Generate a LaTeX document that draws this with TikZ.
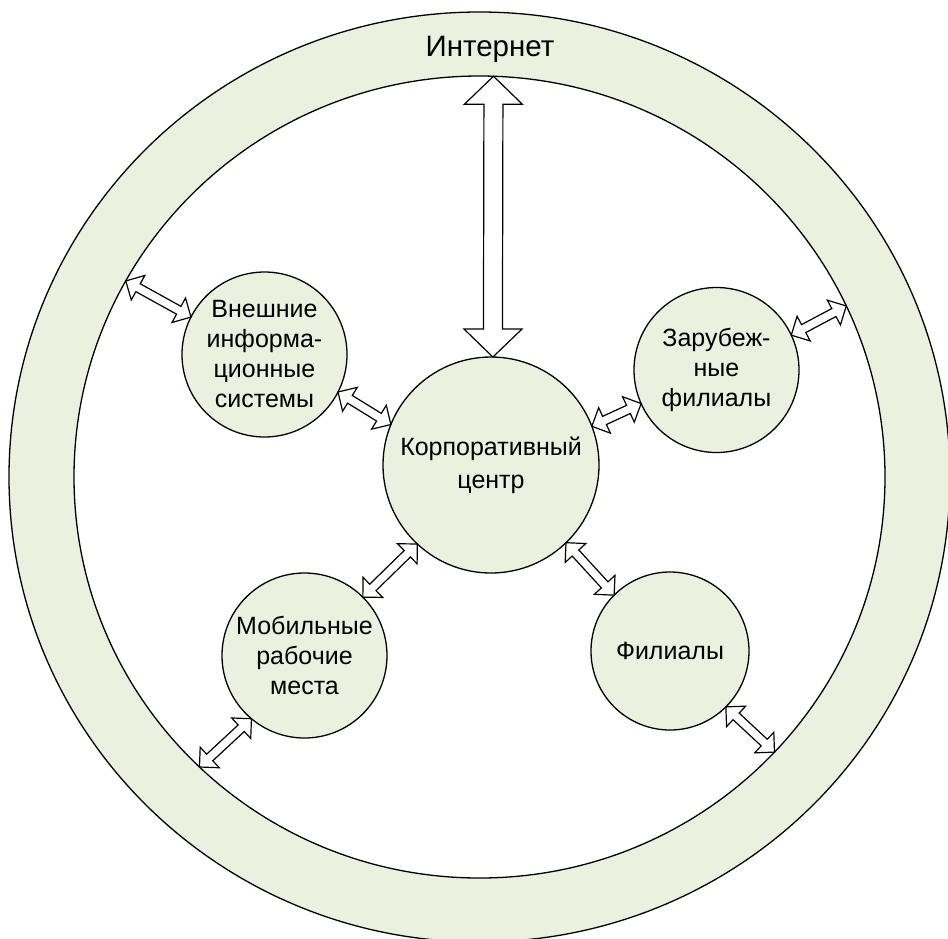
\documentclass[tikz,border=0pt]{standalone}
\usepackage{fontspec}
\setmainfont{Liberation Sans}
\usetikzlibrary{calc,shapes.geometric}
\definecolor{olivefill}{HTML}{EBF1DE}
\tikzset{
  bubble/.style={circle, draw=black, line width=1.3pt, fill=olivefill, inner sep=0pt, outer sep=0pt,
    align=center, font=\fontsize{25}{30}\selectfont},
  ringedge/.style={ellipse, draw=black, line width=1.3pt, inner sep=0pt, outer sep=0pt},
  blockarrow/.style={draw=black, fill=white, line width=1.2pt, line join=miter},
}
% #1 start, #2 end, #3 shaft half width, #4 head half width, #5 head length
\newcommand\dblarrow[5]{%
  \draw[blockarrow] (#1)
   -- ($(#1)!#5!(#2)!#4!90:(#2)$)
   -- ($(#1)!#5!(#2)!#3!90:(#2)$)
   -- ($(#2)!#5!(#1)!#3!-90:(#1)$)
   -- ($(#2)!#5!(#1)!#4!-90:(#1)$)
   -- (#2)
   -- ($(#2)!#5!(#1)!#4!90:(#1)$)
   -- ($(#2)!#5!(#1)!#3!90:(#1)$)
   -- ($(#1)!#5!(#2)!#3!-90:(#2)$)
   -- ($(#1)!#5!(#2)!#4!-90:(#2)$)
   -- cycle;}
\begin{document}
\begin{tikzpicture}[x=1pt,y=-1pt]
  \useasboundingbox (0,0) rectangle (948,938);
  \clip (0,0) rectangle (948,938);
  % ring
  \node[ringedge, fill=olivefill, minimum width=941pt, minimum height=930pt] (outer) at (479.5,477) {};
  \node[ringedge, fill=white, minimum width=811pt, minimum height=802pt] (inner) at (479.5,477) {};
  \node[font=\fontsize{29.5}{35}\selectfont, anchor=base] (net) at (490,56) {Интернет};
  % nodes
  \node[bubble, minimum size=216pt, font=\fontsize{25}{33}\selectfont] (corp) at (491,465) {Корпоративный\\центр};
  \node[bubble, minimum size=165pt] (vis) at (264.5,354.5) {Внешние\\информа-\\ционные\\системы};
  \node[bubble, minimum size=165pt] (zar) at (716.5,370) {Зарубеж-\\ные\\филиалы};
  \node[bubble, minimum size=165pt] (mob) at (304.5,655.5) {Мобильные\\рабочие\\места};
  \node[bubble, minimum size=158pt] (fil) at (670,651) {Филиалы};
  % connectors
  \dblarrow{inner.88}{corp.89}{9.5pt}{29pt}{28pt}
  \dblarrow{inner.151}{vis.153}{4.5pt}{14pt}{14pt}
  \dblarrow{vis.333}{corp.158}{4.5pt}{14pt}{14pt}
  \dblarrow{corp.21}{zar.204}{4.5pt}{14pt}{14pt}
  \dblarrow{zar.25}{inner.25}{4.5pt}{14pt}{14pt}
  \dblarrow{corp.227}{mob.45}{4.5pt}{14pt}{14pt}
  \dblarrow{mob.230}{inner.226}{4.5pt}{14pt}{14pt}
  \dblarrow{corp.314}{fil.135}{4.5pt}{14pt}{14pt}
  \dblarrow{fil.315}{inner.317}{4.5pt}{14pt}{14pt}
\end{tikzpicture}
\end{document}
